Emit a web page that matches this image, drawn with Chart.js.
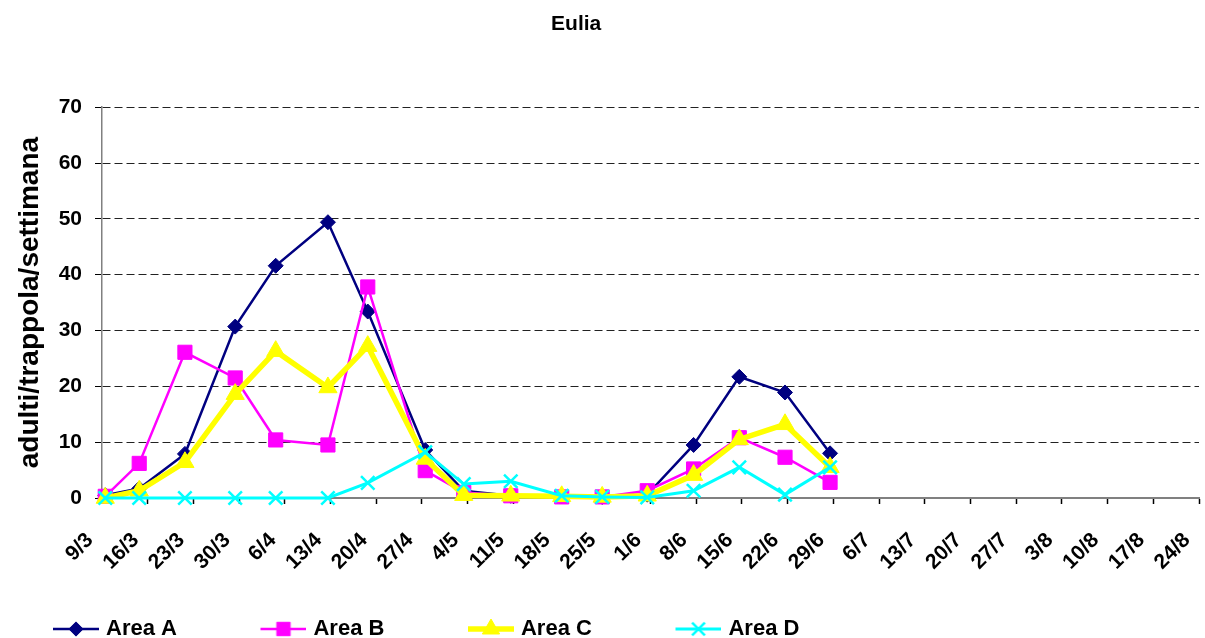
<!DOCTYPE html>
<html>
<head>
<meta charset="utf-8">
<script src="https://cdn.jsdelivr.net/npm/chart.js@4/dist/chart.umd.min.js"></script>
<style>
  html, body { margin: 0; padding: 0; background: #fff; overflow: hidden; }
  #wrap { width: 1205px; height: 650px; position: relative; }
</style>
</head>
<body>
<div id="wrap"><canvas id="chart"></canvas></div>
<script>
// weekly tick labels on the x axis (one every 7 days from 9/3)
const tickLabels = ['9/3', '16/3', '23/3', '30/3', '6/4', '13/4', '20/4', '27/4', '4/5', '11/5', '18/5', '25/5',
    '1/6', '8/6', '15/6', '22/6', '29/6', '6/7', '13/7', '20/7', '27/7', '3/8', '10/8', '17/8', '24/8'];

// sampling dates, as days after 9/3
const sampleDays = [0.5, 5.7, 12.7, 20.4, 26.6, 34.6, 40.7, 49.5, 55.4, 62.6, 70.4, 76.6, 83.5, 90.6, 97.6, 104.6, 111.5];

const areaA = [0.5, 1.7, 7.9, 30.7, 41.6, 49.4, 33.4, 8.6, 1.3, 0.4, 0.3, 0.2, 0.6, 9.5, 21.7, 18.9, 8.0];
const areaB = [0.3, 6.2, 26.1, 21.5, 10.4, 9.5, 37.8, 4.9, 1.0, 0.4, 0.2, 0.2, 1.3, 5.2, 10.8, 7.3, 2.8];
const areaC = [0, 1.3, 6.4, 18.6, 26.3, 19.8, 27.2, 7.0, 0.5, 0.4, 0.3, 0.2, 0.4, 4.1, 10.5, 13.2, 5.5];
const areaD = [0, 0, 0, 0, 0, 0, 2.7, 8.2, 2.5, 3.0, 0.4, 0.2, 0.1, 1.3, 5.5, 0.6, 5.5];

const seriesNames = ['Area A', 'Area B', 'Area C', 'Area D'];

const FONT = "'Liberation Sans', Arial, sans-serif";

const toPoints = vals => vals.map((v, i) => ({ x: sampleDays[i], y: v }));

const makeSet = (label, vals, color, width, style, radius, order, pbw) => ({
    label,
    data: toPoints(vals),
    borderColor: color,
    backgroundColor: color,
    borderWidth: width,
    pointStyle: style,
    pointRadius: radius,
    pointBorderWidth: pbw,
    pointBackgroundColor: color,
    pointBorderColor: color,
    tension: 0,
    clip: false,
    order
});

// Excel draws later series on top, so Area D gets the lowest order
const datasets = [
    makeSet(seriesNames[0], areaA, '#000080', 2.5, 'rectRot', 7.5, 3, 1),
    makeSet(seriesNames[1], areaB, '#FF00FF', 2.5, 'rect', 10, 2, 1),
    makeSet(seriesNames[2], areaC, '#FFFF00', 5.5, 'triangle', 10.5, 1, 1),
    makeSet(seriesNames[3], areaD, '#00FFFF', 3, 'crossRot', 9.5, 0, 2.5)
];

// small line + marker picture for the legend
const legendIcon = ds => {
    const c = document.createElement('canvas');
    c.width = 93; c.height = 24;
    const g = c.getContext('2d');
    g.strokeStyle = ds.borderColor;
    g.fillStyle = ds.borderColor;
    g.lineWidth = ds.borderWidth;
    g.beginPath();
    g.moveTo(47, 12);
    g.lineTo(93, 12);
    g.stroke();
    g.lineWidth = ds.pointBorderWidth;
    Chart.helpers.drawPoint(g, { pointStyle: ds.pointStyle, radius: ds.pointRadius * 0.95, rotation: 0, borderWidth: ds.pointBorderWidth }, 70, 12);
    return c;
};

const pad = '\u00a0\u00a0\u00a0\u00a0\u00a0';

new Chart(document.getElementById('chart'), {
    type: 'line',
    data: { datasets },
    options: {
        animation: false,
        responsive: true,
        maintainAspectRatio: false,
        layout: { autoPadding: false, padding: { left: 0, right: 6, top: 0, bottom: 0 } },
        plugins: {
            title: {
                display: true,
                // trailing spaces pull the centred title a bit to the left, like the original
                text: 'Eulia' + '\u00a0'.repeat(8),
                color: '#000',
                font: { family: FONT, size: 21, weight: 'bold' },
                padding: { top: 12, bottom: 70 }
            },
            legend: {
                position: 'bottom',
                align: 'start',
                labels: {
                    usePointStyle: true,
                    pointStyleWidth: 85,
                    padding: 10,
                    color: '#000',
                    font: { family: FONT, size: 22, weight: 'bold' },
                    generateLabels: chart => chart.data.datasets.map((ds, i) => ({
                        text: ds.label + pad,
                        fillStyle: ds.borderColor,
                        strokeStyle: ds.borderColor,
                        lineWidth: 0,
                        pointStyle: legendIcon(ds),
                        fontColor: '#000',
                        hidden: false,
                        datasetIndex: i
                    }))
                }
            },
            tooltip: { enabled: false }
        },
        scales: {
            x: {
                type: 'linear',
                min: 0,
                max: 168,
                afterFit: s => { s.height = 110; s.paddingRight = 0; },
                grid: { drawOnChartArea: false, drawTicks: true, tickLength: 6, tickColor: '#000', tickWidth: 1.5 },
                border: { color: '#808080', width: 2 },
                ticks: {
                    stepSize: 7,
                    autoSkip: false,
                    minRotation: 45,
                    maxRotation: 45,
                    padding: 24,
                    labelOffset: -12,
                    color: '#000',
                    font: { family: FONT, size: 21, weight: 'bold' },
                    callback: v => tickLabels[Math.round(v / 7)] ?? ''
                }
            },
            y: {
                min: 0,
                max: 70,
                afterFit: s => { s.width = 102; },
                grid: {
                    color: '#222',
                    lineWidth: 1,
                    tickLength: 7,
                    tickColor: '#000',
                    tickBorderDash: [],
                    tickWidth: 1
                },
                border: { color: '#808080', width: 1.5, dash: [8, 4] },
                ticks: {
                    stepSize: 10,
                    padding: 13,
                    color: '#000',
                    font: { family: FONT, size: 21, weight: 'bold' }
                },
                title: {
                    display: true,
                    text: 'adulti/trappola/settimana',
                    color: '#000',
                    font: { family: FONT, size: 28, weight: 'bold' },
                    padding: { top: 13, bottom: 0 }
                }
            }
        }
    }
});
</script>
</body>
</html>
